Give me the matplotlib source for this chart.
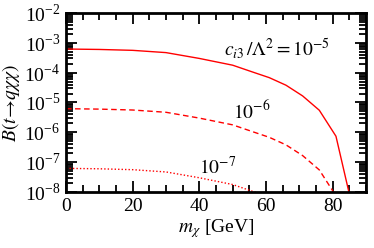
import matplotlib
matplotlib.use("Agg")
import matplotlib.pyplot as plt
from matplotlib.ticker import FixedLocator, FixedFormatter, MultipleLocator
import numpy as np

plt.rcParams.update({"font.family": "Liberation Serif", "mathtext.fontset": "stix"})

# m_chi [GeV] and branching ratios
m_chi = [0, 10, 20, 30, 40, 50, 56, 61, 66, 71, 76, 81, 85.5]
br_1e5 = [6.2e-4, 6.0e-4, 5.6e-4, 4.7e-4, 3.0e-4, 1.78e-4, 1.05e-4, 6.8e-5,
          3.8e-5, 1.66e-5, 5.5e-6, 7.4e-7, 5.0e-9]
br_1e6 = [6.2e-6, 6.0e-6, 5.6e-6, 4.7e-6, 3.0e-6, 1.78e-6, 1.05e-6, 6.8e-7,
          3.8e-7, 1.66e-7, 5.5e-8, 7.4e-9, 5.0e-11]
br_1e7 = [6.2e-8, 6.0e-8, 5.6e-8, 4.7e-8, 3.0e-8, 1.78e-8, 1.05e-8, 6.8e-9,
          3.8e-9, 1.66e-9, 5.5e-10, 7.4e-11, 5.0e-13]
ytick_exp = [-8, -7, -6, -5, -4, -3, -2]

RED = "#ff0000"
fig = plt.figure(figsize=(3.74, 2.48), dpi=100)
ax = fig.add_axes([0.1765, 0.2258, 0.802, 0.7218])

ax.plot(m_chi, br_1e5, color=RED, lw=1.0)
ax.plot(m_chi, br_1e6, color=RED, lw=1.0, ls=(0, (4, 2.5)))
ax.plot(m_chi, br_1e7, color=RED, lw=1.0, ls=(0, (1, 1.5)))

ax.set_yscale("log")
ax.set_xlim(0, 90)
ax.set_ylim(1e-8, 1e-2)

ax.xaxis.set_major_locator(MultipleLocator(20))
ax.xaxis.set_minor_locator(MultipleLocator(5))
ax.yaxis.set_major_locator(FixedLocator([10.0 ** e for e in ytick_exp]))
ax.yaxis.set_major_formatter(FixedFormatter([f"10$^{{\\mathregular{{{e}}}}}$" for e in ytick_exp]))
minor = [k * 10.0 ** e for e in ytick_exp[:-1] for k in range(2, 10)]
ax.yaxis.set_minor_locator(FixedLocator(minor))

ax.tick_params(which="both", direction="in", top=True, right=True, labelsize=14, width=1.3)
ax.tick_params(which="major", length=8, pad=4)
ax.tick_params(which="minor", length=5)
for s in ax.spines.values():
    s.set_linewidth(2.0)

ax.set_xlabel(r"$m_\chi$ [GeV]", fontsize=14, labelpad=2)
ax.set_ylabel(r"$B(t\!\rightarrow\! q\chi\chi)$", fontsize=14, labelpad=2)

ax.text(47.5, 10 ** -3.2, r"$c_{i3}\,/\Lambda^2 = 10^{-5}$", fontsize=14, va="center", ha="left")
ax.text(50, 10 ** -5.3, r"$10^{-6}$", fontsize=14, va="center", ha="left")
ax.text(40, 10 ** -7.15, r"$10^{-7}$", fontsize=14, va="center", ha="left")

fig.savefig("out.png", dpi=100)
